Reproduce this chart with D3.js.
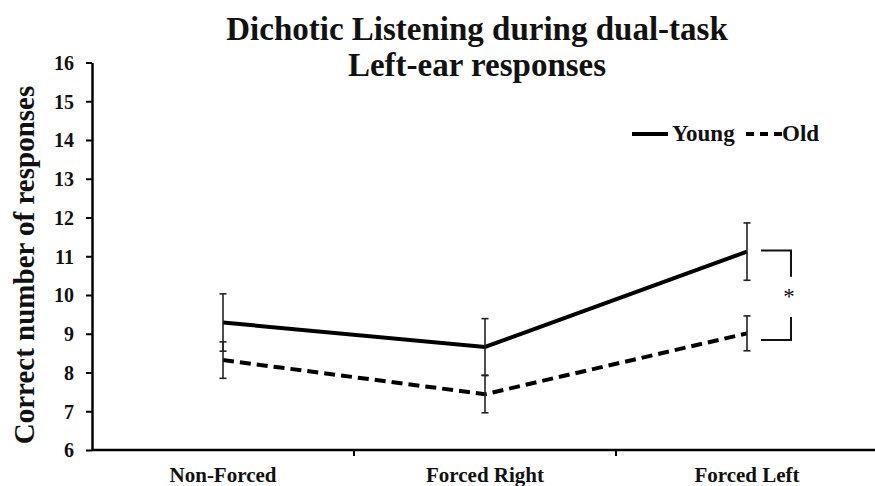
<!DOCTYPE html>
<html><head><meta charset="utf-8">
<script src="https://cdn.jsdelivr.net/npm/d3@7"></script>
<style>body{margin:0;background:#fff}svg{display:block}</style>
</head><body>
<script>
const categories = ["Non-Forced", "Forced Right", "Forced Left"];
const youngMeans = [9.29, 8.66, 11.12];
const youngErr   = [0.74, 0.73, 0.74];
const oldMeans   = [8.32, 7.44, 9.01];
const oldErr     = [0.47, 0.48, 0.45];
const yTicks = [6,7,8,9,10,11,12,13,14,15,16];
const titleLines = ["Dichotic Listening during dual-task", "Left-ear responses"];
const yTitle = "Correct number of responses";
const legendLabels = ["Young", "Old"];
const sigTop = [11.15, 10.47];
const sigBottom = [9.43, 8.84];

const W = 875, H = 486;
const font = "'Liberation Serif', 'Times New Roman', serif";
const svg = d3.select("body").append("svg").attr("width", W).attr("height", H)
  .style("font-family", font).style("font-weight", "bold");

const x = d3.scaleBand().domain(categories).range([92, 878]).padding(0);
const y = d3.scaleLinear().domain([6, 16]).range([450, 62.5]);

// Y axis
const yAx = svg.append("g").attr("transform", "translate(92,0)")
  .call(d3.axisLeft(y).tickValues(yTicks).tickSize(6).tickPadding(12).tickSizeOuter(0));
yAx.select(".domain").attr("stroke", "#000").attr("stroke-width", 2.5);
yAx.selectAll(".tick line").attr("stroke", "#000").attr("stroke-width", 2);
yAx.selectAll(".tick text").attr("font-size", 20).attr("font-family", font)
  .attr("font-weight", "bold").attr("fill", "#111").attr("dy", "0.34em");

// X axis
svg.append("line").attr("x1", 92).attr("x2", 875).attr("y1", 450).attr("y2", 450)
  .attr("stroke", "#000").attr("stroke-width", 2.5);
svg.selectAll(".xtick").data(categories.slice(1)).enter().append("line")
  .attr("x1", d => x(d)).attr("x2", d => x(d)).attr("y1", 450).attr("y2", 456)
  .attr("stroke", "#000").attr("stroke-width", 2);
svg.selectAll(".xlab").data(categories).enter().append("text")
  .attr("x", d => x(d) + x.bandwidth() / 2).attr("y", 482)
  .attr("text-anchor", "middle").attr("font-size", 21).attr("fill", "#111").text(d => d);

// Titles
svg.selectAll(".title").data(titleLines).enter().append("text")
  .attr("x", 477).attr("y", (d, i) => 39.5 + i * 36)
  .attr("text-anchor", "middle").attr("font-size", 33).attr("fill", "#111").text(d => d);

svg.append("text").attr("transform", "translate(34,265) rotate(-90)")
  .attr("text-anchor", "middle").attr("font-size", 29).attr("fill", "#111").text(yTitle);

// Lines
const cx = (d, i) => x(categories[i]) + x.bandwidth() / 2;
const lineGen = d3.line().x(cx).y(d => y(d));
svg.append("path").datum(youngMeans).attr("d", lineGen).attr("fill", "none")
  .attr("stroke", "#000").attr("stroke-width", 4);
svg.append("path").datum(oldMeans).attr("d", lineGen).attr("fill", "none")
  .attr("stroke", "#000").attr("stroke-width", 4).attr("stroke-dasharray", "11,6");

// Error bars
function errBars(means, errs) {
  const g = svg.append("g").attr("stroke", "#222").attr("stroke-width", 1.6);
  means.forEach((m, i) => {
    const c = cx(m, i);
    g.append("line").attr("x1", c).attr("x2", c).attr("y1", y(m - errs[i])).attr("y2", y(m + errs[i]));
    [m - errs[i], m + errs[i]].forEach(v => g.append("line")
      .attr("x1", c - 3.5).attr("x2", c + 3.5).attr("y1", y(v)).attr("y2", y(v)));
  });
}
errBars(youngMeans, youngErr);
errBars(oldMeans, oldErr);

// Significance brackets
const fc = x(categories[2]) + x.bandwidth() / 2;
const bx1 = fc + 14, bx2 = fc + 44;
svg.append("path").attr("d", `M${bx1},${y(sigTop[0])}H${bx2}V${y(sigTop[1])}`)
  .attr("fill", "none").attr("stroke", "#111").attr("stroke-width", 2);
svg.append("path").attr("d", `M${bx1},${y(sigBottom[1])}H${bx2}V${y(sigBottom[0])}`)
  .attr("fill", "none").attr("stroke", "#111").attr("stroke-width", 2);
svg.append("text").attr("x", bx2 - 2).attr("y", (y(sigTop[1]) + y(sigBottom[0])) / 2 + 7)
  .attr("text-anchor", "middle").attr("font-size", 23).attr("font-weight", "normal")
  .attr("fill", "#111").text("*");

// Legend
const lg = svg.append("g");
lg.append("line").attr("x1", 632).attr("x2", 668).attr("y1", 134).attr("y2", 134)
  .attr("stroke", "#000").attr("stroke-width", 4);
lg.append("text").attr("x", 672).attr("y", 141).attr("font-size", 23).attr("fill", "#111").text(legendLabels[0]);
lg.append("line").attr("x1", 746).attr("x2", 782).attr("y1", 134).attr("y2", 134)
  .attr("stroke", "#000").attr("stroke-width", 4).attr("stroke-dasharray", "8,6");
lg.append("text").attr("x", 782).attr("y", 141).attr("font-size", 23).attr("fill", "#111").text(legendLabels[1]);
</script>
</body></html>
